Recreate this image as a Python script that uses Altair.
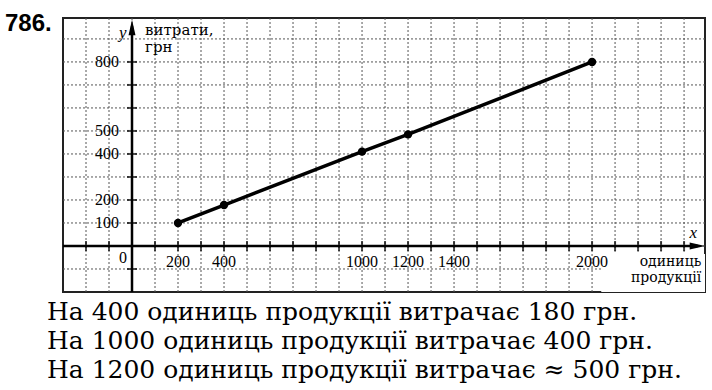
import altair as alt
import pandas as pd

# data
units = [200, 400, 1000, 1200, 2000]
costs = [100, 178, 410, 485, 800]
x_tick_labels = [200, 400, 1000, 1200, 1400, 2000]
y_tick_labels = [100, 200, 400, 500, 800]
x_grid = list(range(-200, 2500, 100))
y_grid = list(range(-100, 1000, 100))
x_axis_ticks = [v for v in range(-200, 2500, 100) if v != 0]
y_axis_ticks = [v for v in range(-100, 900, 100) if v != 0]
answer_lines = [
    "На 400 одиниць продукції витрачає 180 грн.",
    "На 1000 одиниць продукції витрачає 400 грн.",
    "На 1200 одиниць продукції витрачає ≈ 500 грн.",
]

XD = [-300, 2491]
YD = [-200, 991]
xs = alt.Scale(domain=XD, nice=False, zero=False)
ys = alt.Scale(domain=YD, nice=False, zero=False)
noax = None

SERIF = "Liberation Serif"
WIDE = "DejaVu Serif"

pts = pd.DataFrame({"x": units, "y": costs})

vgrid = alt.Chart(pd.DataFrame({"x": x_grid})).mark_rule(
    color="#555", strokeDash=[2, 2], strokeWidth=1
).encode(x=alt.X("x:Q", scale=xs, axis=noax))

hgrid = alt.Chart(pd.DataFrame({"y": y_grid})).mark_rule(
    color="#555", strokeDash=[2, 2], strokeWidth=1
).encode(y=alt.Y("y:Q", scale=ys, axis=noax))

whitebox = alt.Chart(pd.DataFrame({"x": [2040], "x2": [2491], "y": [-35], "y2": [-200]})).mark_rect(
    color="white"
).encode(x=alt.X("x:Q", scale=xs, axis=noax), x2="x2:Q",
         y=alt.Y("y:Q", scale=ys, axis=noax), y2="y2:Q")

xaxis = alt.Chart(pd.DataFrame({"x": [-300], "x2": [2460], "y": [0]})).mark_rule(
    color="black", strokeWidth=2.5
).encode(x=alt.X("x:Q", scale=xs, axis=noax), x2="x2:Q", y=alt.Y("y:Q", scale=ys, axis=noax))

yaxis = alt.Chart(pd.DataFrame({"x": [0], "y": [-200], "y2": [955]})).mark_rule(
    color="black", strokeWidth=2.5
).encode(x=alt.X("x:Q", scale=xs, axis=noax), y=alt.Y("y:Q", scale=ys, axis=noax), y2="y2:Q")

xticks = alt.Chart(pd.DataFrame({"x": x_axis_ticks, "y": [0] * len(x_axis_ticks)})).mark_tick(
    color="black", orient="vertical", size=10, thickness=2
).encode(x=alt.X("x:Q", scale=xs, axis=noax), y=alt.Y("y:Q", scale=ys, axis=noax))

yticks = alt.Chart(pd.DataFrame({"x": [0] * len(y_axis_ticks), "y": y_axis_ticks})).mark_tick(
    color="black", orient="horizontal", size=10, thickness=2
).encode(x=alt.X("x:Q", scale=xs, axis=noax), y=alt.Y("y:Q", scale=ys, axis=noax))

xarrow = alt.Chart(pd.DataFrame({"x": [2458], "y": [0]})).mark_point(
    shape="M-1,-0.45L1,0L-1,0.45Z", filled=True, color="black", opacity=1, size=240
).encode(x=alt.X("x:Q", scale=xs, axis=noax), y=alt.Y("y:Q", scale=ys, axis=noax))

yarrow = alt.Chart(pd.DataFrame({"x": [0], "y": [950]})).mark_point(
    shape="M-0.45,1L0,-1L0.45,1Z", filled=True, color="black", opacity=1, size=240
).encode(x=alt.X("x:Q", scale=xs, axis=noax), y=alt.Y("y:Q", scale=ys, axis=noax))

line = alt.Chart(pts).mark_line(color="black", strokeWidth=3.5).encode(
    x=alt.X("x:Q", scale=xs, axis=noax), y=alt.Y("y:Q", scale=ys, axis=noax))

dots = alt.Chart(pts).mark_point(filled=True, color="black", opacity=1, size=70).encode(
    x=alt.X("x:Q", scale=xs, axis=noax), y=alt.Y("y:Q", scale=ys, axis=noax))

xlab = alt.Chart(pd.DataFrame({"x": x_tick_labels, "y": [0] * len(x_tick_labels)})).mark_text(
    font=SERIF, fontSize=16, color="black", dy=16, baseline="middle", align="center"
).encode(x=alt.X("x:Q", scale=xs, axis=noax), y=alt.Y("y:Q", scale=ys, axis=noax), text="x:Q")

ylab = alt.Chart(pd.DataFrame({"x": [0] * len(y_tick_labels), "y": y_tick_labels})).mark_text(
    font=SERIF, fontSize=16, color="black", dx=-13, baseline="middle", align="right"
).encode(x=alt.X("x:Q", scale=xs, axis=noax), y=alt.Y("y:Q", scale=ys, axis=noax), text="y:Q")

zero = alt.Chart(pd.DataFrame({"x": [0], "y": [0], "t": ["0"]})).mark_text(
    font=SERIF, fontSize=16, color="black", dx=-9, dy=12, baseline="middle", align="center"
).encode(x=alt.X("x:Q", scale=xs, axis=noax), y=alt.Y("y:Q", scale=ys, axis=noax), text="t:N")

def note(x, y, t, align="left", italic=False, size=15, font=WIDE):
    return alt.Chart(pd.DataFrame({"x": [x], "y": [y], "t": [t]})).mark_text(
        font=font, fontSize=size, color="black", align=align, baseline="middle",
        fontStyle="italic" if italic else "normal"
    ).encode(x=alt.X("x:Q", scale=xs, axis=noax), y=alt.Y("y:Q", scale=ys, axis=noax), text="t:N")

labels = (
    note(-40, 925, "y", align="center", italic=True, size=17, font=SERIF)
    + note(57, 940, "витрати,", size=15)
    + note(57, 866, "грн", size=15)
    + note(2440, 57, "x", align="center", italic=True, size=17, font=SERIF)
    + note(2475, -68, "одиниць", align="right", size=14)
    + note(2475, -138, "продукції", align="right", size=14)
)

title = alt.Chart(pd.DataFrame({"t": ["786."]})).mark_text(
    font="Liberation Sans", fontSize=24, fontWeight="bold", color="black",
    align="left", baseline="middle"
).encode(x=alt.value(-58), y=alt.value(6), text="t:N")

answer_marks = []
for i, txt in enumerate(answer_lines):
    answer_marks.append(
        alt.Chart(pd.DataFrame({"t": [txt]})).mark_text(
            font=WIDE, fontSize=25, color="black", align="left", baseline="alphabetic"
        ).encode(x=alt.value(-16), y=alt.value(302 + 29 * i), text="t:N")
    )

chart = alt.layer(
    vgrid, hgrid, whitebox, xaxis, yaxis, xticks, yticks, xarrow, yarrow,
    line, dots, xlab, ylab, zero, labels, title, *answer_marks
).properties(
    width=642, height=274,
    padding={"left": 63, "top": 18, "right": 7, "bottom": 98},
    autosize=alt.AutoSizeParams(type="none"),
    background="white",
).configure_view(stroke="#222", strokeWidth=2)

chart.save("out.html", embed_options={"renderer": "svg", "actions": False})
